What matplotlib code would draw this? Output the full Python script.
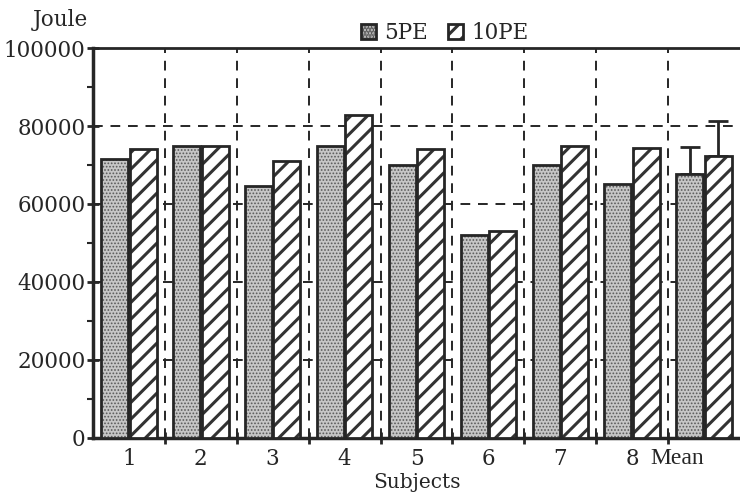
import matplotlib
matplotlib.use("Agg")
import matplotlib.pyplot as plt
import numpy as np
from matplotlib.patches import Patch

subjects = ["1", "2", "3", "4", "5", "6", "7", "8", "Mean"]
pe5 = [71500, 75000, 64700, 75000, 70000, 52000, 70000, 65000, 67800]
pe10 = [74000, 75000, 71000, 82800, 74000, 53000, 75000, 74400, 72300]
err5 = [0, 0, 0, 0, 0, 0, 0, 0, 6800]
err10 = [0, 0, 0, 0, 0, 0, 0, 0, 9000]

plt.rcParams['font.family'] = ['DejaVu Serif']
plt.rcParams['hatch.linewidth'] = 2.2
ink = '#262626'
dotface = '#c6c6c6'
dotcolor = '#5a5a5a'


def set_hatch(p, color, lw):
    p._hatch_color = matplotlib.colors.to_rgba(color)
    if hasattr(p, 'set_hatch_linewidth'):
        p.set_hatch_linewidth(lw)


fig = plt.figure(figsize=(7.4, 4.96), dpi=100)
ax = fig.add_axes([0.1257, 0.117, 0.8743, 0.7862])

x = np.arange(len(subjects))
w = 0.375
b1 = ax.bar(x - w / 2 - 0.01, pe5, w, color=dotface, edgecolor=ink,
            linewidth=2, hatch='.....', zorder=3)
b2 = ax.bar(x + w / 2 + 0.01, pe10, w, color='white', edgecolor=ink,
            linewidth=2, hatch='//', zorder=3)
for b in b1:
    set_hatch(b, dotcolor, 0.8)
for b in b2:
    set_hatch(b, '#333333', 2.2)

ax.errorbar(x[-1:] - w / 2 - 0.01, pe5[-1:], yerr=[[0], err5[-1:]], fmt='none',
            ecolor=ink, elinewidth=2, capsize=7, capthick=2, zorder=2)
ax.errorbar(x[-1:] + w / 2 + 0.01, pe10[-1:], yerr=[[0], err10[-1:]], fmt='none',
            ecolor=ink, elinewidth=2, capsize=7, capthick=2, zorder=2)

ax.set_xlim(-0.5, len(subjects) - 0.5)
ax.set_ylim(0, 100000)
ax.set_yticks(np.arange(0, 100001, 20000))
ax.set_yticks(np.arange(10000, 100000, 20000), minor=True)
ax.set_xticks(np.arange(0.5, len(subjects) - 0.5, 1))
ax.set_xticklabels([])
ax.set_xticks(x, minor=True)
ax.set_xticklabels(subjects, minor=True)

ax.tick_params(axis='y', which='major', direction='inout', length=9, width=2,
               color=ink, labelsize=15.5, labelcolor=ink, pad=1)
ax.tick_params(axis='y', which='minor', direction='out', length=4, width=1.5, color=ink)
ax.tick_params(axis='x', which='major', direction='inout', length=9, width=2, color=ink)
ax.tick_params(axis='x', which='minor', length=0, labelsize=15.5, labelcolor=ink, pad=7)

mean_lab = ax.get_xminorticklabels()[-1]
mean_lab.set_horizontalalignment('right')
mean_lab.set_fontfamily('Liberation Serif')
mean_lab.set_fontsize(17)

ax.grid(True, which='major', linestyle=(0, (5, 4)), color=ink, linewidth=1.4, zorder=1)
ax.set_axisbelow(True)

for s in ['left', 'bottom']:
    ax.spines[s].set_linewidth(2.5)
    ax.spines[s].set_color(ink)
ax.spines['top'].set_linewidth(2)
ax.spines['top'].set_color(ink)
ax.spines['right'].set_visible(False)

fig.text(0.082, 0.96, 'Joule', ha='center', va='center', fontsize=15.5, color=ink)
fig.text(0.5635, 0.027, 'Subjects', ha='center', va='center', fontsize=14.5, color=ink)

handles = [Patch(facecolor=dotface, edgecolor=ink, hatch='.....', linewidth=2),
           Patch(facecolor='white', edgecolor=ink, hatch='//', linewidth=2)]
set_hatch(handles[0], dotcolor, 0.8)
set_hatch(handles[1], '#333333', 2.2)
leg = fig.legend(handles, ['5PE', '10PE'], loc='center', bbox_to_anchor=(0.601, 0.933),
                 ncol=2, frameon=False, fontsize=15.5, handlelength=0.7, handleheight=0.7,
                 handletextpad=0.4, columnspacing=0.9, labelcolor=ink)

fig.savefig('out.png', dpi=100)
